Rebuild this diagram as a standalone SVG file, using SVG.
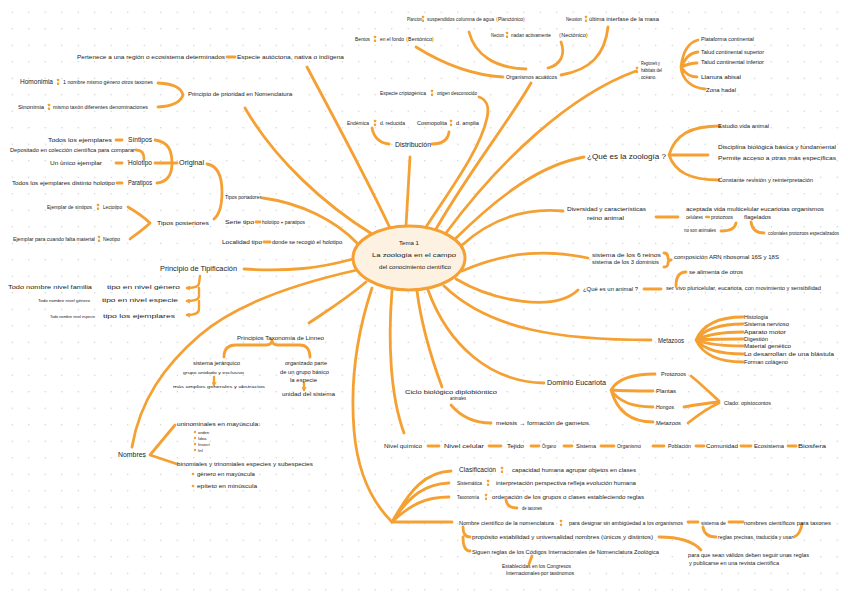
<svg xmlns="http://www.w3.org/2000/svg" width="848" height="599" viewBox="0 0 848 599">
<style>
.t{font-family:"Liberation Sans",Arial,sans-serif;font-size:5px;fill:#1b1b1b}
.s{font-size:4.4px}
.b{font-size:6.3px}
.bb{font-size:7px}
.po{fill:#F5A032;font-weight:bold;font-size:6px}
.c{fill:none;stroke:#F5A032;stroke-width:2.8;stroke-linecap:round;stroke-linejoin:round}
.d{fill:none;stroke:#F5A032;stroke-width:2.4;stroke-linecap:round}
</style>
<defs>
<pattern id="dots" x="11.7" y="11.7" width="16.5" height="16.5" patternUnits="userSpaceOnUse">
<circle cx="0.6" cy="0.6" r="0.65" fill="#c4c4c4"/>
</pattern>
<marker id="ah" viewBox="0 0 6 6" refX="4" refY="3" markerWidth="5" markerHeight="5" markerUnits="userSpaceOnUse" orient="auto">
<path d="M0.5,0.5 L4.5,3 L0.5,5.5" fill="none" stroke="#F5A032" stroke-width="1.3" stroke-linecap="round"/>
</marker>
<g id="col" fill="#F5A032"><rect x="-1.1" y="-3.2" width="2.2" height="2.4" rx="0.4"/><rect x="-1.1" y="0.6" width="2.2" height="2.4" rx="0.4"/></g>
</defs>
<rect width="848" height="599" fill="#ffffff"/>
<rect width="848" height="599" fill="url(#dots)"/>

<g id="connectors">
<path class="c" d="M307,67 C335,120 365,175 390,228"/>
<path class="c" d="M245,108 C275,160 325,205 372,234"/>
<path class="c" d="M263,198 C300,203 335,220 357,243"/>
<path class="c" d="M244,269 C290,272 320,268 353,259"/>
<path class="c" d="M357,270 C290,285 235,305 200,335 C165,365 140,400 132,447"/>
<path class="c" d="M366,282 C345,300 325,312 309,323"/>
<path class="c" d="M372,288 C358,330 350,380 354,430 C358,480 378,508 392,522"/>
<path class="c" d="M392,291 C388,340 390,395 404,433"/>
<path class="c" d="M417,291 C422,330 432,360 442,387"/>
<path class="c" d="M428,290 C448,345 490,382 544,383"/>
<path class="c" d="M444,286 C490,330 560,340 651,340"/>
<path class="c" d="M456,279 C495,302 555,312 578,290"/>
<path class="c" d="M462,271 C510,250 550,250 588,258"/>
<path class="c" d="M461,246 C495,215 530,208 563,211"/>
<path class="c" d="M455,239 C500,195 540,165 584,157"/>
<path class="c" d="M446,233 C500,160 570,95 636,71"/>
<path class="c" d="M436,229 C470,170 510,120 531,83"/>
<path class="c" d="M426,227 C450,190 480,150 487,118 C490,105 485,99 479,97"/>
<path class="c" d="M410,157 L406,226"/>
<path class="c" d="M158,83 C175,84 181,88 183,95 C181,101 175,106 158,107"/>
<path class="c" d="M155,140 C168,142 172,150 172,163 C172,176 166,182 157,183 M155,163 L177,163"/>
<path class="c" d="M136,150 C142,150 144,153 144,159"/>
<path class="c" d="M207,164 C219,166 222,178 222,192 C222,205 220,214 214,219"/>
<path class="c" d="M128,207 C138,213 144,217 150,223 C144,229 138,233 130,239"/>
<path class="d" marker-end="url(#ah)" d="M200,276 L199,283 Q199,288 187,288"/>
<path class="d" marker-end="url(#ah)" d="M199,288 L199,296 Q199,301 187,301"/>
<path class="d" marker-end="url(#ah)" d="M199,301 L199,309 Q199,315 187,315"/>
<path class="c" d="M224,357 C224,349 228,345 236,345 L266,345 C270,345 272,343 272,340 C272,343 274,345 278,345 L300,345 C306,345 310,349 310,357"/>
<path class="d" marker-end="url(#ah)" d="M214,377 L214,385"/>
<path class="d" marker-end="url(#ah)" d="M304,383 L304,390"/>
<path class="c" d="M175,425 L150,455 L177,464"/>
<path class="c" d="M469,32 C475,55 495,68 526,69"/>
<path class="c" d="M416,47 C440,62 470,75 503,77"/>
<path class="c" d="M561,42 C566,55 560,65 548,68"/>
<path class="c" d="M608,27 C605,55 590,70 561,75"/>
<path class="c" d="M372,128 C374,138 380,143 389,144"/>
<path class="c" d="M449,132 C448,140 442,144 432,144"/>
<path class="c" d="M681,67 C683,50 690,42 698,40 M681,67 C686,57 690,53 698,52 M681,67 C688,64 692,63 697,63 M681,67 C686,74 690,77 697,77 M681,67 C682,80 692,88 705,89"/>
<path class="c" d="M669,155 C675,135 690,126 720,126 M669,155 L708,155 M669,155 C675,172 690,180 719,180"/>
<path class="c" d="M656,217 L678,217"/>
<path class="d" d="M706,217 L709,217"/>
<path class="c" d="M736,223 C735,229 730,231 721,231"/>
<path class="c" d="M751,222 C752,229 756,233 764,233"/>
<path class="c" d="M664,253 C668,253 668,256 668,258 C668,259 669,260 671,260 C669,260 668,261 668,263 C668,265 668,267 664,267"/>
<path class="c" d="M644,289 L661,289"/>
<path class="c" d="M676,286 C676,277 679,272 686,272"/>
<path class="c" d="M696,340 Q706,317 743,317 M696,340 Q708,324 743,324 M696,340 Q712,332 743,332 M696,340 Q715,339 743,339 M696,340 Q712,346 743,346 M696,340 Q708,354 743,354 M696,340 Q706,362 743,362"/>
<path class="c" d="M611,390 Q620,374 655,374 M611,390 Q625,391 653,391 M611,390 Q622,407 653,407 M611,390 Q620,422 653,422"/>
<path class="c" d="M691,376 C700,383 710,393 719,401 M684,407 C695,405 708,403 719,402 M688,423 C698,415 708,408 719,403"/>
<path class="c" d="M451,405 C462,418 475,423 491,423"/>
<path class="c" d="M428,446 L439,446 M489,446 L501,446 M531,446 L539,446 M564,446 L572,446 M601,446 L614,446 M653,446 L664,446 M696,446 L704,446 M741,446 L751,446 M788,446 L796,446"/>
<path class="c" d="M392,522 C410,490 425,472 451,471 M392,522 C410,495 425,484 449,483 M392,522 C410,505 425,497 449,497 M392,522 L452,522"/>
<path class="c" d="M506,500 C507,506 511,508 517,508"/>
<path class="c" d="M463,527 C463,533 465,537 470,537 M463,537 C463,546 465,551 470,551"/>
<path class="c" d="M688,522 L698,522 M729,522 L743,522"/>
<path class="c" d="M703,527 C704,534 708,537 716,537 M794,537 C799,535 801,530 802,524"/>
<path class="c" d="M659,537 C675,537 692,540 701,550"/>
<path class="c" d="M532,556 L529,564"/>
</g>

<g id="center">
<ellipse cx="409" cy="258" rx="56" ry="32" fill="#FDF1E2" stroke="#F5A032" stroke-width="3"/>
<text class="t" x="399" y="245" textLength="20" lengthAdjust="spacingAndGlyphs">Tema 1</text>
<text class="t" x="372" y="257" textLength="84" lengthAdjust="spacingAndGlyphs">La zoología   en el campo</text>
<text class="t" x="379" y="269" textLength="72" lengthAdjust="spacingAndGlyphs">del conocimiento científico</text>
</g>

<g id="n-autoctona">
<text class="t" x="77" y="59" textLength="148" lengthAdjust="spacingAndGlyphs">Pertenece a una región o ecosistema determinados</text>
<path class="c" d="M227,57 L235,57"/>
<text class="t" x="237" y="59" textLength="107" lengthAdjust="spacingAndGlyphs">Especie autóctona, nativa o indígena</text>
</g>
<g id="n-prioridad">
<text class="t b" x="20" y="84" textLength="33" lengthAdjust="spacingAndGlyphs">Homonimia</text>
<use href="#col" x="58" y="82"/>
<text class="t" x="63" y="84" textLength="90" lengthAdjust="spacingAndGlyphs">1 nombre mismo género otros taxones</text>
<text class="t" x="18" y="109" textLength="26" lengthAdjust="spacingAndGlyphs">Sinonimia</text>
<use href="#col" x="49" y="107"/>
<text class="t" x="53" y="109" textLength="95" lengthAdjust="spacingAndGlyphs">mismo taxón diferentes denominaciones</text>
<text class="t" x="188" y="96" textLength="104" lengthAdjust="spacingAndGlyphs">Principio de prioridad  en Nomenclatura</text>
</g>
<g id="n-original">
<text class="t" x="48" y="142" textLength="64" lengthAdjust="spacingAndGlyphs">Todos los ejemplares</text>
<path class="c" d="M116,140 L122,140"/>
<text class="t b" x="128" y="142" textLength="24" lengthAdjust="spacingAndGlyphs">Síntipos</text>
<text class="t" x="10" y="152" textLength="125" lengthAdjust="spacingAndGlyphs">Depositado en colección científica para comparar</text>
<text class="t" x="50" y="165" textLength="52" lengthAdjust="spacingAndGlyphs">Un único ejemplar</text>
<path class="c" d="M116,163 L122,163"/>
<text class="t b" x="128" y="165" textLength="24" lengthAdjust="spacingAndGlyphs">Holotipo</text>
<text class="t" x="12" y="185" textLength="103" lengthAdjust="spacingAndGlyphs">Todos los ejemplares distinto holotipo</text>
<path class="c" d="M117,183 L122,183"/>
<text class="t b" x="128" y="185" textLength="24" lengthAdjust="spacingAndGlyphs">Paratipos</text>
<text class="t b" x="179" y="165" textLength="25" lengthAdjust="spacingAndGlyphs">Original</text>
</g>
<g id="n-portadores">
<text class="t" x="225" y="199" textLength="37" lengthAdjust="spacingAndGlyphs">Tipos portadores</text>
<text class="t" x="47" y="209" textLength="45" lengthAdjust="spacingAndGlyphs">Ejemplar de síntipos</text>
<use href="#col" x="98" y="207"/>
<text class="t" x="103" y="209" textLength="19" lengthAdjust="spacingAndGlyphs">Lectotipo</text>
<text class="t" x="13" y="241" textLength="82" lengthAdjust="spacingAndGlyphs">Ejemplar para cuando falta material</text>
<use href="#col" x="99" y="239"/>
<text class="t" x="103" y="241" textLength="17" lengthAdjust="spacingAndGlyphs">Neotipo</text>
<text class="t" x="157" y="225" textLength="52" lengthAdjust="spacingAndGlyphs">Tipos posteriores</text>
<text class="t" x="225" y="224" textLength="29" lengthAdjust="spacingAndGlyphs">Serie tipo</text>
<path class="c" d="M256,222 L260,222"/>
<text class="t" x="262" y="224" textLength="43" lengthAdjust="spacingAndGlyphs">holotipo + paratipos</text>
<text class="t" x="222" y="244" textLength="40" lengthAdjust="spacingAndGlyphs">Localidad tipo</text>
<path class="c" d="M264,242 L270,242"/>
<text class="t" x="272" y="244" textLength="70" lengthAdjust="spacingAndGlyphs">donde se recogió el holotipo</text>
</g>
<g id="n-tipificacion">
<text class="t b" x="160" y="271" textLength="77" lengthAdjust="spacingAndGlyphs">Principio de Tipificación</text>
<text class="t" x="8" y="289" textLength="84" lengthAdjust="spacingAndGlyphs">Todo nombre nivel familia</text>
<text class="t" x="107" y="289" textLength="73" lengthAdjust="spacingAndGlyphs">tipo en  nivel  género</text>
<text class="t s" x="38" y="302" textLength="52" lengthAdjust="spacingAndGlyphs">Todo nombre nivel género</text>
<text class="t" x="102" y="302" textLength="76" lengthAdjust="spacingAndGlyphs">tipo en  nivel  especie</text>
<text class="t s" x="50" y="318" textLength="45" lengthAdjust="spacingAndGlyphs">Todo nombre nivel especie</text>
<text class="t" x="103" y="318" textLength="72" lengthAdjust="spacingAndGlyphs">tipo  los  ejemplares</text>
</g>
<g id="n-linneo">
<text class="t" x="237" y="340" textLength="87" lengthAdjust="spacingAndGlyphs">Principios Taxonomía  de Linneo</text>
<text class="t" x="193" y="365" textLength="47" lengthAdjust="spacingAndGlyphs">sistema jerárquico</text>
<text class="t s" x="183" y="374" textLength="61" lengthAdjust="spacingAndGlyphs">grupo anidado y exclusivo</text>
<text class="t s" x="173" y="388" textLength="92" lengthAdjust="spacingAndGlyphs">más amplios  generales y abstractos</text>
<text class="t" x="285" y="365" textLength="42" lengthAdjust="spacingAndGlyphs">organizado parte</text>
<text class="t" x="280" y="374" textLength="49" lengthAdjust="spacingAndGlyphs">de un grupo básico</text>
<text class="t" x="290" y="382" textLength="27" lengthAdjust="spacingAndGlyphs">la especie</text>
<text class="t" x="282" y="396" textLength="53" lengthAdjust="spacingAndGlyphs">unidad del sistema</text>
</g>
<g id="n-nombres">
<text class="t b" x="118" y="457" textLength="28" lengthAdjust="spacingAndGlyphs">Nombres</text>
<text class="t" x="177" y="426" textLength="83" lengthAdjust="spacingAndGlyphs">uninominales en mayúscula:</text>
<circle cx="195" cy="432" r="1.2" fill="#F5A032"/><text class="t s" x="198" y="434">orden</text>
<circle cx="195" cy="438" r="1.2" fill="#F5A032"/><text class="t s" x="198" y="440">Idea</text>
<circle cx="195" cy="444" r="1.2" fill="#F5A032"/><text class="t s" x="198" y="446">Insect</text>
<circle cx="195" cy="450" r="1.2" fill="#F5A032"/><text class="t s" x="198" y="452">Inl</text>
<text class="t" x="177" y="466" textLength="136" lengthAdjust="spacingAndGlyphs">binomiales y trinomiales   especies y subespecies</text>
<circle cx="193" cy="474" r="1.3" fill="#F5A032"/><text class="t" x="197" y="476" textLength="58" lengthAdjust="spacingAndGlyphs">género en mayúscula</text>
<circle cx="193" cy="486" r="1.3" fill="#F5A032"/><text class="t" x="197" y="488" textLength="60" lengthAdjust="spacingAndGlyphs">epíteto en minúscula</text>
</g>
<g id="n-distribucion">
<text class="t" x="380" y="95" textLength="46" lengthAdjust="spacingAndGlyphs">Especie criptogénica</text>
<use href="#col" x="432" y="93"/>
<text class="t" x="437" y="95" textLength="40" lengthAdjust="spacingAndGlyphs">origen desconocido</text>
<text class="t" x="347" y="125" textLength="22" lengthAdjust="spacingAndGlyphs">Endémica</text>
<use href="#col" x="375" y="123"/>
<text class="t" x="380" y="125" textLength="25" lengthAdjust="spacingAndGlyphs">d. reducida</text>
<text class="t" x="417" y="125" textLength="30" lengthAdjust="spacingAndGlyphs">Cosmopolita</text>
<use href="#col" x="451" y="123"/>
<text class="t" x="456" y="125" textLength="23" lengthAdjust="spacingAndGlyphs">d. amplia</text>
<text class="t b" x="395" y="147" textLength="36" lengthAdjust="spacingAndGlyphs">Distribución</text>
</g>
<g id="n-acuaticos">
<text class="t" x="407" y="21" textLength="15" lengthAdjust="spacingAndGlyphs">Plancton</text>
<use href="#col" x="423" y="19"/>
<text class="t" x="427" y="21" textLength="67" lengthAdjust="spacingAndGlyphs">suspendidos columna de agua</text>
<text class="t" x="496" y="21" textLength="29" lengthAdjust="spacingAndGlyphs"><tspan class="po">(</tspan>Planctónico<tspan class="po">)</tspan></text>
<text class="t" x="566" y="21" textLength="16" lengthAdjust="spacingAndGlyphs">Neuston</text>
<use href="#col" x="586" y="19"/>
<text class="t" x="589" y="21" textLength="70" lengthAdjust="spacingAndGlyphs">última interfase de la masa</text>
<text class="t" x="355" y="41" textLength="15" lengthAdjust="spacingAndGlyphs">Bentos</text>
<use href="#col" x="375" y="39"/>
<text class="t" x="380" y="41" textLength="24" lengthAdjust="spacingAndGlyphs">en el fondo</text>
<text class="t" x="406" y="41" textLength="28" lengthAdjust="spacingAndGlyphs"><tspan class="po">(</tspan>Bentónico<tspan class="po">)</tspan></text>
<text class="t" x="491" y="37" textLength="13" lengthAdjust="spacingAndGlyphs">Necton</text>
<use href="#col" x="507" y="35"/>
<text class="t" x="511" y="37" textLength="40" lengthAdjust="spacingAndGlyphs">nadan activamente</text>
<text class="t" x="559" y="37" textLength="29" lengthAdjust="spacingAndGlyphs"><tspan class="po">(</tspan>Nectónico<tspan class="po">)</tspan></text>
<text class="t" x="506" y="79" textLength="51" lengthAdjust="spacingAndGlyphs">Organismos acuáticos</text>
</g>
<g id="n-regiones">
<use href="#col" x="637" y="70"/>
<text class="t" x="641" y="65" textLength="19" lengthAdjust="spacingAndGlyphs">Regiones y</text>
<text class="t" x="641" y="72" textLength="21" lengthAdjust="spacingAndGlyphs">hábitats del</text>
<text class="t" x="641" y="79" textLength="14" lengthAdjust="spacingAndGlyphs">océano</text>
<text class="t" x="701" y="41" textLength="53" lengthAdjust="spacingAndGlyphs">Plataforma continental</text>
<text class="t" x="701" y="54" textLength="63" lengthAdjust="spacingAndGlyphs">Talud continental superior</text>
<text class="t" x="701" y="64" textLength="63" lengthAdjust="spacingAndGlyphs">Talud continental inferior</text>
<text class="t" x="701" y="79" textLength="40" lengthAdjust="spacingAndGlyphs">Llanura abisal</text>
<text class="t" x="706" y="92" textLength="30" lengthAdjust="spacingAndGlyphs">Zona hadal</text>
</g>
<g id="n-zoologia">
<text class="t bb" x="587" y="159" textLength="79" lengthAdjust="spacingAndGlyphs">¿Qué es la zoología ?</text>
<text class="t" x="718" y="128" textLength="51" lengthAdjust="spacingAndGlyphs">Estudio vida animal</text>
<text class="t" x="718" y="149" textLength="118" lengthAdjust="spacingAndGlyphs">Disciplina biológica básica y fundamental</text>
<text class="t" x="718" y="160" textLength="118" lengthAdjust="spacingAndGlyphs">Permite acceso a otras más específicas</text>
<text class="t" x="718" y="182" textLength="95" lengthAdjust="spacingAndGlyphs">Constante revisión y reinterpretación</text>
</g>
<g id="n-diversidad">
<text class="t" x="567" y="211" textLength="79" lengthAdjust="spacingAndGlyphs">Diversidad y características</text>
<text class="t" x="587" y="220" textLength="37" lengthAdjust="spacingAndGlyphs">reino animal</text>
<text class="t" x="686" y="211" textLength="138" lengthAdjust="spacingAndGlyphs">aceptada vida multicelular  eucariotas  organismos</text>
<text class="t" x="686" y="219" textLength="17" lengthAdjust="spacingAndGlyphs">celulares</text>
<text class="t" x="711" y="219" textLength="22" lengthAdjust="spacingAndGlyphs">protozoos</text>
<text class="t" x="744" y="219" textLength="27" lengthAdjust="spacingAndGlyphs">flagelados</text>
<text class="t" x="684" y="232" textLength="32" lengthAdjust="spacingAndGlyphs">no son animales</text>
<text class="t" x="768" y="235" textLength="71" lengthAdjust="spacingAndGlyphs">coloniales protozoos especializados</text>
</g>
<g id="n-reinos">
<text class="t" x="592" y="257" textLength="69" lengthAdjust="spacingAndGlyphs">sistema de los 6 reinos</text>
<text class="t" x="592" y="264" textLength="67" lengthAdjust="spacingAndGlyphs">sistema de los 3 dominios</text>
<text class="t" x="674" y="259" textLength="105" lengthAdjust="spacingAndGlyphs">composición  ARN ribosomal  16S  y  18S</text>
</g>
<g id="n-animal">
<text class="t" x="583" y="291" textLength="55" lengthAdjust="spacingAndGlyphs">¿Qué es un animal ?</text>
<text class="t" x="666" y="290" textLength="155" lengthAdjust="spacingAndGlyphs">ser vivo pluricelular, eucariota, con movimiento y sensibilidad</text>
<text class="t" x="689" y="274" textLength="54" lengthAdjust="spacingAndGlyphs">se alimenta de otros</text>
</g>
<g id="n-metazoos">
<text class="t b" x="658" y="343" textLength="26" lengthAdjust="spacingAndGlyphs">Metazoos</text>
<text class="t" x="744" y="319" textLength="24" lengthAdjust="spacingAndGlyphs">Histología</text>
<text class="t" x="744" y="326" textLength="45" lengthAdjust="spacingAndGlyphs">Sistema nervioso</text>
<text class="t" x="744" y="334" textLength="42" lengthAdjust="spacingAndGlyphs">Aparato motor</text>
<text class="t" x="744" y="341" textLength="24" lengthAdjust="spacingAndGlyphs">Digestión</text>
<text class="t" x="744" y="348" textLength="47" lengthAdjust="spacingAndGlyphs">Material genético</text>
<text class="t" x="744" y="356" textLength="90" lengthAdjust="spacingAndGlyphs">Lo desarrollan de una blástula</text>
<text class="t" x="744" y="364" textLength="44" lengthAdjust="spacingAndGlyphs">Forman colágeno</text>
</g>
<g id="n-eucariota">
<text class="t bb" x="547" y="385" textLength="59" lengthAdjust="spacingAndGlyphs">Dominio Eucariota</text>
<text class="t" x="661" y="376" textLength="25" lengthAdjust="spacingAndGlyphs">Protozoos</text>
<text class="t" x="656" y="393" textLength="20" lengthAdjust="spacingAndGlyphs">Plantas</text>
<text class="t" x="656" y="409" textLength="18" lengthAdjust="spacingAndGlyphs">Hongos</text>
<text class="t" x="656" y="425" textLength="25" lengthAdjust="spacingAndGlyphs">Metazoos</text>
<text class="t" x="724" y="405" textLength="47" lengthAdjust="spacingAndGlyphs">Clado: opistocontos</text>
</g>
<g id="n-ciclo">
<text class="t" x="405" y="394" textLength="92" lengthAdjust="spacingAndGlyphs">Ciclo biológico   diplobióntico</text>
<text class="t" x="450" y="400" textLength="16" lengthAdjust="spacingAndGlyphs">animales</text>
<text class="t" x="496" y="425" textLength="93" lengthAdjust="spacingAndGlyphs">meiosis  →  formación  de  gametos</text>
</g>
<g id="n-niveles">
<text class="t" x="384" y="448" textLength="38" lengthAdjust="spacingAndGlyphs">Nivel químico</text>
<text class="t" x="444" y="448" textLength="40" lengthAdjust="spacingAndGlyphs">Nivel celular</text>
<text class="t" x="507" y="448" textLength="17" lengthAdjust="spacingAndGlyphs">Tejido</text>
<text class="t" x="542" y="448" textLength="14" lengthAdjust="spacingAndGlyphs">Órgano</text>
<text class="t" x="576" y="448" textLength="20" lengthAdjust="spacingAndGlyphs">Sistema</text>
<text class="t" x="617" y="448" textLength="24" lengthAdjust="spacingAndGlyphs">Organismo</text>
<text class="t" x="668" y="448" textLength="23" lengthAdjust="spacingAndGlyphs">Población</text>
<text class="t" x="706" y="448" textLength="32" lengthAdjust="spacingAndGlyphs">Comunidad</text>
<text class="t" x="754" y="448" textLength="30" lengthAdjust="spacingAndGlyphs">Ecosistema</text>
<text class="t" x="798" y="448" textLength="28" lengthAdjust="spacingAndGlyphs">Biosfera</text>
</g>
<g id="n-clasificacion">
<text class="t b" x="459" y="472" textLength="37" lengthAdjust="spacingAndGlyphs">Clasificación</text>
<use href="#col" x="502" y="470"/>
<text class="t" x="512" y="472" textLength="124" lengthAdjust="spacingAndGlyphs">capacidad humana agrupar objetos en clases</text>
<text class="t" x="457" y="485" textLength="25" lengthAdjust="spacingAndGlyphs">Sistemática</text>
<use href="#col" x="488" y="483"/>
<text class="t" x="496" y="485" textLength="140" lengthAdjust="spacingAndGlyphs">interpretación perspectiva refleja evolución humana</text>
<text class="t" x="457" y="499" textLength="22" lengthAdjust="spacingAndGlyphs">Taxonomía</text>
<use href="#col" x="486" y="497"/>
<text class="t" x="492" y="499" textLength="152" lengthAdjust="spacingAndGlyphs">ordenación de los grupos o clases estableciendo reglas</text>
<text class="t" x="522" y="510" textLength="20" lengthAdjust="spacingAndGlyphs">de taxones</text>
</g>
<g id="n-nomenclatura">
<text class="t" x="459" y="525" textLength="95" lengthAdjust="spacingAndGlyphs">Nombre científico de la nomenclatura</text>
<use href="#col" x="561" y="523"/>
<text class="t" x="569" y="525" textLength="114" lengthAdjust="spacingAndGlyphs">para designar sin ambigüedad a los organismos</text>
<text class="t" x="701" y="525" textLength="25" lengthAdjust="spacingAndGlyphs">sistema de</text>
<text class="t" x="744" y="525" textLength="87" lengthAdjust="spacingAndGlyphs">nombres científicos para taxones</text>
<text class="t" x="718" y="539" textLength="75" lengthAdjust="spacingAndGlyphs">reglas precisas, traducida y usar</text>
<text class="t" x="472" y="539" textLength="181" lengthAdjust="spacingAndGlyphs">propósito  estabilidad y universalidad  nombres (únicos y distintos)</text>
<text class="t" x="472" y="554" textLength="187" lengthAdjust="spacingAndGlyphs">Siguen reglas de los Códigos Internacionales de Nomenclatura Zoológica</text>
<text class="t" x="688" y="557" textLength="121" lengthAdjust="spacingAndGlyphs">para que sean válidos deben seguir unas reglas</text>
<text class="t" x="689" y="565" textLength="90" lengthAdjust="spacingAndGlyphs">y publicarse en una revista científica</text>
<text class="t" x="502" y="568" textLength="69" lengthAdjust="spacingAndGlyphs">Establecidas en los Congresos</text>
<text class="t" x="506" y="575" textLength="68" lengthAdjust="spacingAndGlyphs">Internacionales por taxónomos</text>
</g>
</svg>
